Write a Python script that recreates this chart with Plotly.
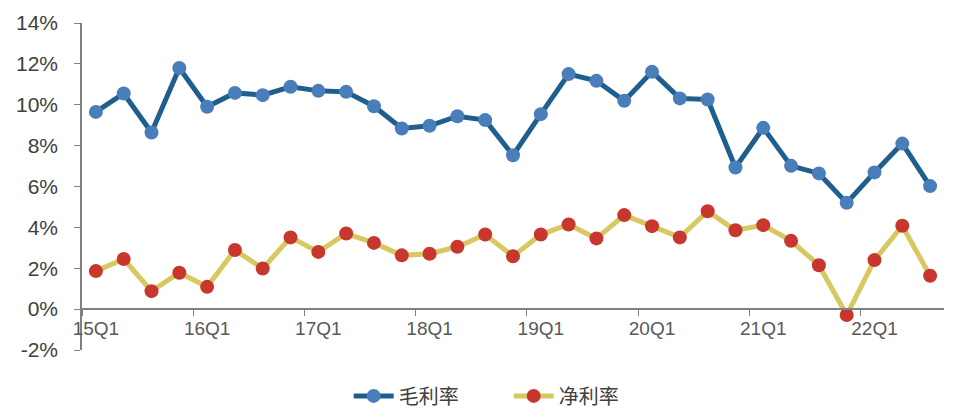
import plotly.graph_objects as go

quarters = [f"{y}Q{q}" for y in range(15, 23) for q in range(1, 5)][:31]

gross_margin = [9.65, 10.55, 8.64, 11.8, 9.9, 10.58, 10.47, 10.88, 10.68, 10.63,
                9.93, 8.84, 8.97, 9.44, 9.25, 7.53, 9.54, 11.5, 11.17, 10.19,
                11.61, 10.31, 10.26, 6.93, 8.87, 7.01, 6.64, 5.2, 6.69, 8.1, 6.02]

net_margin = [1.86, 2.45, 0.88, 1.78, 1.09, 2.89, 1.99, 3.51, 2.8, 3.7,
              3.24, 2.63, 2.71, 3.05, 3.65, 2.59, 3.65, 4.14, 3.46, 4.6,
              4.06, 3.51, 4.79, 3.86, 4.11, 3.34, 2.15, -0.29, 2.4, 4.08, 1.63]

y_tick_vals = [-2, 0, 2, 4, 6, 8, 10, 12, 14]
y_tick_text = ["-2%", "0%", "2%", "4%", "6%", "8%", "10%", "12%", "14%"]

fig = go.Figure()
fig.add_trace(go.Scatter(
    x=quarters, y=gross_margin, name="毛利率", mode="lines+markers",
    line=dict(color="#1F5F8E", width=5),
    marker=dict(color="#4A7EBB", size=14, line=dict(width=0)),
))
fig.add_trace(go.Scatter(
    x=quarters, y=net_margin, name="净利率", mode="lines+markers",
    line=dict(color="#D8C862", width=5),
    marker=dict(color="#C8372D", size=14, line=dict(width=0)),
))

# page body has an 8px margin: figure is 945x404 so it fills the 953x412 window
fig.update_layout(
    width=945, height=404,
    margin=dict(l=74, r=9, t=15, b=62, autoexpand=False),
    paper_bgcolor="white", plot_bgcolor="white",
    font=dict(family="Liberation Sans, Arial, sans-serif", color="#404040"),
    showlegend=True,
    legend=dict(orientation="h", x=0.495, xanchor="center", y=-0.2, yanchor="bottom",
                font=dict(family="Noto Sans CJK SC", size=20, color="#404040"),
                itemwidth=40, entrywidth=105),
    xaxis=dict(
        type="category", range=[-0.5, 30.5],
        tickmode="linear", tick0=0, dtick=4, tickson="boundaries",
        anchor="free", position=0.125, tickangle=0, automargin=False,
        showline=True, linecolor="#808080", linewidth=1.5,
        ticks="outside", ticklen=6, tickcolor="#808080",
        ticklabelstandoff=2,
        tickfont=dict(size=19, color="#595959"),
        showgrid=False, zeroline=False,
    ),
    yaxis=dict(
        domain=[0, 1], range=[-2, 14], automargin=False,
        tickmode="array", tickvals=y_tick_vals, ticktext=y_tick_text,
        showline=True, linecolor="#808080", linewidth=1.5,
        ticks="outside", ticklen=6, tickcolor="#808080",
        ticklabelstandoff=12,
        tickfont=dict(size=21, color="#404040"),
        showgrid=False, zeroline=False,
    ),
)

fig.write_html("out.html")
